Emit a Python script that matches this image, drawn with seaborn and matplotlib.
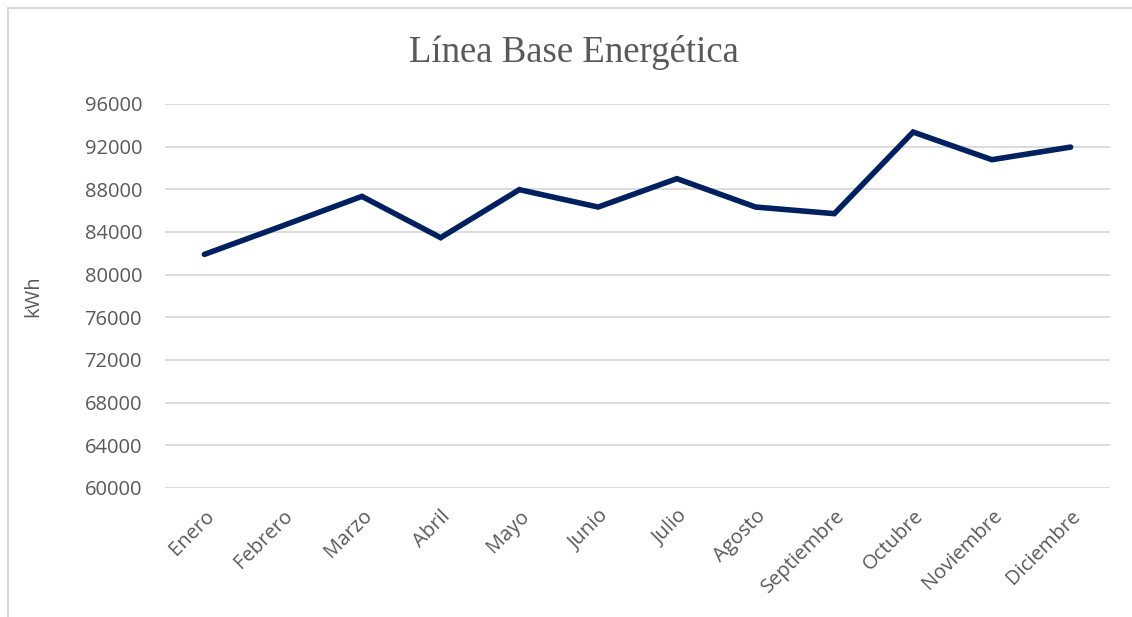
import matplotlib
matplotlib.use("Agg")
import matplotlib.pyplot as plt
import seaborn as sns
import pandas as pd
from matplotlib.patches import Rectangle

months = ["Enero", "Febrero", "Marzo", "Abril", "Mayo", "Junio", "Julio",
          "Agosto", "Septiembre", "Octubre", "Noviembre", "Diciembre"]
kwh = [81900, 84600, 87340, 83470, 87970, 86340, 89000,
       86340, 85720, 93370, 90780, 91960]
yticks = [60000, 64000, 68000, 72000, 76000, 80000, 84000, 88000, 92000, 96000]

sns.set_theme(style="white")
plt.rcParams['font.family'] = ['Open Sans', 'DejaVu Sans']

W, H = 1132, 617
fig = plt.figure(figsize=(W / 100, H / 100), dpi=100)
ax = fig.add_axes([165 / W, 1 - 488 / H, (1110 - 165) / W, (488 - 104) / H])

df = pd.DataFrame({"mes": months, "kwh": kwh})
df["pos"] = range(len(months))
sns.lineplot(data=df, x="pos", y="kwh", ax=ax, color="#002060", linewidth=4,
             solid_capstyle="round", solid_joinstyle="miter")

ax.set_xlim(-0.5, len(months) - 0.5)
ax.set_ylim(yticks[0], yticks[-1])
ax.set_yticks(yticks)
ax.set_yticklabels([str(v) for v in yticks])
ax.set_xticks(range(len(months)))
ax.set_xticklabels(months, rotation=45, ha="right", rotation_mode="anchor")
ax.tick_params(axis="both", colors="#595959", labelsize=14.5, length=0)
ax.tick_params(axis="y", pad=16.5)
ax.tick_params(axis="x", pad=13)
ax.grid(axis="y", color="#d9d9d9", linewidth=1.3)
ax.grid(axis="x", visible=False)
for s in ax.spines.values():
    s.set_visible(False)
ax.set_xlabel("")
ax.set_ylabel("kWh", color="#595959", fontsize=14.5)
ax.yaxis.set_label_coords(-122 / 945, 0.5)

fig.text(574 / W, 1 - 52 / H, "Línea Base Energética", ha="center", va="center",
         fontsize=26.5, color="#595959", family=["Liberation Serif", "DejaVu Serif"])

fig.patches.append(Rectangle((8 / W, -0.05), 1.2, 1 - 8 / H + 0.05,
                             transform=fig.transFigure, fill=False,
                             edgecolor="#d9d9d9", linewidth=1.5, zorder=0))

fig.savefig("out.png", dpi=100, facecolor="white")
